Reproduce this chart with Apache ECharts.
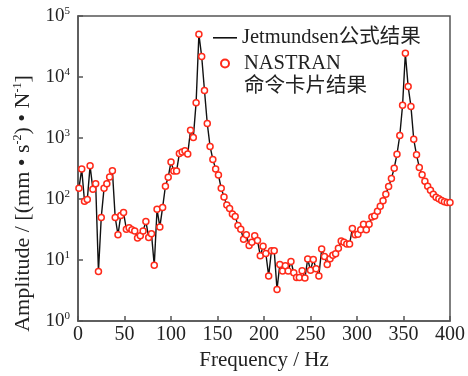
<!DOCTYPE html>
<html>
<head>
<meta charset="utf-8">
<script src="https://cdn.jsdelivr.net/npm/echarts@6/dist/echarts.min.js"></script>
<style>
html, body { margin: 0; padding: 0; background: #fff; }
#chart { width: 468px; height: 376px; }
</style>
</head>
<body>
<div id="chart"></div>
<script>
// frequency grid (Hz)
var freq = [1, 4, 7, 10, 13, 16, 19, 22, 25, 28, 31, 34, 37, 40, 43, 46, 49, 52, 55, 58,
  61, 64, 67, 70, 73, 76, 79, 82, 85, 88, 91, 94, 97, 100, 103, 106, 109, 112, 115, 118,
  121, 124, 127, 130, 133, 136, 139, 142, 145, 148, 151, 154, 157, 160, 163, 166, 169, 172, 175, 178,
  181, 184, 187, 190, 193, 196, 199, 202, 205, 208, 211, 214, 217, 220, 223, 226, 229, 232, 235, 238,
  241, 244, 247, 250, 253, 256, 259, 262, 265, 268, 271, 274, 277, 280, 283, 286, 289, 292, 295, 298,
  301, 304, 307, 310, 313, 316, 319, 322, 325, 328, 331, 334, 337, 340, 343, 346, 349, 352, 355, 358,
  361, 364, 367, 370, 373, 376, 379, 382, 385, 388, 391, 394, 397, 400];

// amplitude, (mm*s^-2)/N
var amplitude = [150, 310, 92, 98, 350, 145, 178, 6.5, 50, 150, 178, 230, 290, 50, 26, 54, 60, 32, 34, 31.5,
  30, 23, 25, 30, 43, 23.5, 27, 8.2, 68, 35, 73, 162, 228, 405, 288, 288, 560, 590, 620, 550,
  1340, 1020, 3800, 50000, 21700, 6000, 1730, 730, 447, 312, 248, 150, 108, 80, 70, 57, 52, 37, 32, 22,
  26, 17.4, 19.6, 25, 21, 11.8, 16.8, 12.8, 5.5, 14.2, 14.2, 3.3, 8.5, 6.6, 8.1, 6.6, 9.5, 6.2, 5.2, 5.2,
  6.7, 5.1, 10.4, 6.8, 10.2, 7.2, 5.5, 15.2, 11.5, 8.5, 10.5, 12, 12.7, 15.6, 20.5, 19.6, 18.3, 18.3, 33, 26,
  26.5, 31.5, 38.5, 31.5, 38.5, 51, 53, 63, 76, 94, 120, 160, 218, 320, 545, 1100, 3450, 24500, 7000, 3300,
  955, 530, 330, 250, 195, 162, 139, 120, 107, 101, 95, 90, 88, 88];

var lineName = 'Jetmundsen公式结果';
var dotName = 'NASTRAN\n命令卡片结果';

var serif = '"Liberation Serif", "Noto Sans CJK SC", serif';
var axisColor = '#555';
var textColor = '#222';

var pts = freq.map(function (f, i) { return [f, amplitude[i]]; });

var chartDom = document.getElementById('chart');
var myChart = echarts.init(chartDom);
var option;

var legendText = { fontFamily: serif, fontSize: 20.5, color: textColor, lineHeight: 23 };

option = {
  animation: false,
  backgroundColor: '#fff',
  grid: {
    left: 78, right: 16, top: 16, bottom: 48,
    show: true, borderColor: axisColor, borderWidth: 1.5
  },
  legend: [
    {
      orient: 'vertical',
      left: 208, top: 21,
      itemWidth: 24, itemHeight: 9,
      textStyle: legendText,
      data: [{ name: lineName, icon: 'path://M0,0L0,0M0,4L24,4L24,5.6L0,5.6ZM0,9L0,9' }]
    },
    {
      // blank first line keeps the marker beside "NASTRAN"
      orient: 'vertical',
      left: 215, top: 24,
      itemWidth: 28, itemHeight: 8,
      textStyle: legendText,
      formatter: function (name) { return '\n' + name; },
      data: [{ name: dotName }]
    }
  ],
  xAxis: {
    type: 'value',
    min: 0, max: 400, interval: 50,
    name: 'Frequency / Hz',
    nameLocation: 'middle',
    nameGap: 27,
    nameTextStyle: { fontFamily: serif, fontSize: 21, color: textColor },
    axisLine: { lineStyle: { color: axisColor, width: 1.5 } },
    axisTick: { inside: true, length: 5, lineStyle: { color: axisColor, width: 1.5 } },
    axisLabel: { fontFamily: serif, fontSize: 20, color: textColor, margin: 4 },
    splitLine: { show: false }
  },
  yAxis: {
    type: 'log',
    logBase: 10,
    min: 1, max: 100000,
    name: 'Amplitude / [(mm • s{s|-2}) • N{s|-1}]',
    nameLocation: 'middle',
    nameGap: 44,
    nameTextStyle: {
      fontFamily: serif, fontSize: 22, color: textColor,
      padding: [0, 70, 0, 0],
      rich: { s: { fontFamily: serif, fontSize: 12, color: textColor, padding: [0, 0, 10, 0] } }
    },
    axisLine: { lineStyle: { color: axisColor, width: 1.5 } },
    axisTick: { inside: true, length: 5, lineStyle: { color: axisColor, width: 1.5 } },
    axisLabel: {
      margin: 8,
      formatter: function (v) {
        var e = Math.round(Math.log10(v));
        return '{b|10}{s|' + e + '}';
      },
      rich: {
        b: { fontFamily: serif, fontSize: 19, color: textColor },
        s: { fontFamily: serif, fontSize: 11, color: textColor, padding: [0, 0, 10, 0] }
      }
    },
    splitLine: { show: false }
  },
  series: [
    {
      name: lineName,
      type: 'line',
      data: pts,
      symbol: 'none',
      lineStyle: { color: '#111', width: 1.4 },
      itemStyle: { color: '#111' },
      z: 2
    },
    {
      name: dotName,
      type: 'scatter',
      data: pts,
      symbol: 'circle',
      symbolSize: 6,
      itemStyle: { color: '#fff', borderColor: '#ff2a1a', borderWidth: 1.5, opacity: 1 },
      z: 3
    }
  ]
};

option && myChart.setOption(option);
</script>
</body>
</html>
